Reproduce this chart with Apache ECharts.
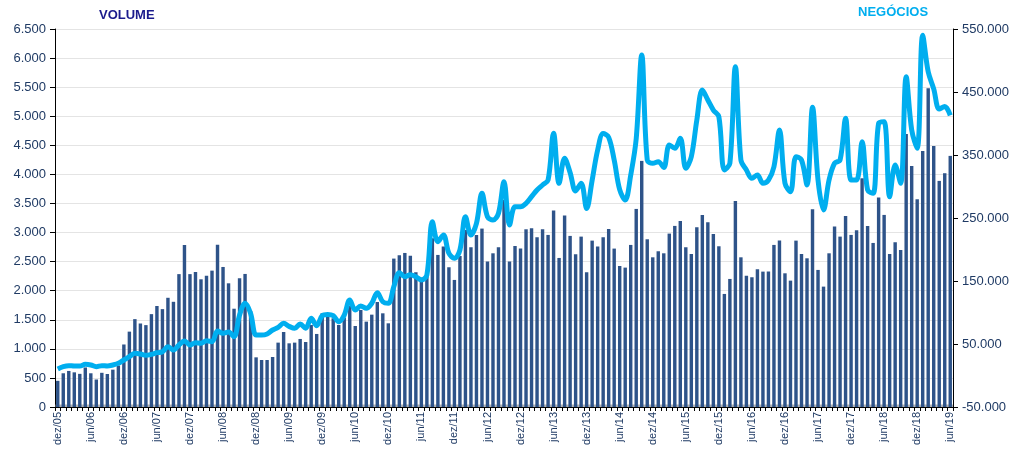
<!DOCTYPE html>
<html>
<head>
<meta charset="utf-8">
<script src="https://cdn.jsdelivr.net/npm/echarts@6/dist/echarts.min.js"></script>
<style>
html,body{margin:0;padding:0;background:#fff;}
#c{width:1013px;height:450px;}
</style>
</head>
<body>
<div id="c"></div>
<script>
// Month labels and span of the series
const monthNames = ['jan','fev','mar','abr','mai','jun','jul','ago','set','out','nov','dez'];
const startYear = 2005, startMonth = 11; // dez/05
const monthCount = 163;                  // dez/05 .. jun/19

// VOLUME (left axis)
const volume = [
  450,580,620,596,570,680,580,473,588,568,642,714,
  1075,1296,1511,1436,1408,1597,1737,1683,1878,1809,2285,2786,
  2285,2322,2196,2259,2345,2792,2408,2127,1690,2213,2288,1650,
  854,808,808,860,1107,1290,1095,1107,1170,1118,1411,1256,
  1611,1611,1525,1411,1537,1737,1393,1669,1468,1588,1806,1611,
  1439,2552,2609,2649,2600,2317,2225,2250,2900,2615,2758,2403,
  2185,2597,3045,2747,2959,3068,2500,2643,2747,3561,2500,2769,
  2724,3056,3073,2919,3056,2959,3377,2563,3291,2942,2626,2930,
  2317,2861,2758,2919,3062,2724,2425,2397,2787,3406,4232,2884,
  2574,2678,2643,2982,3114,3200,2747,2632,3091,3303,3177,2976,
  2764,1944,2202,3544,2574,2259,2231,2368,2328,2328,2787,2861,
  2299,2173,2861,2632,2557,3400,2357,2070,2643,3102,2930,3286,
  2959,3039,3933,3114,2821,3601,3303,2632,2833,2701,4696,4146,
  3572,4400,5482,4490,3888,4020,4318
];

// NEGÓCIOS (right axis)
const negocios = [
  10300,14000,15600,15100,15100,17700,16700,14000,15600,15100,16700,19300,
  24600,29900,35200,34100,32000,33600,36200,37800,45700,40500,48400,54800,
  48400,52100,51100,55200,53700,70600,67000,69000,61600,96000,114600,98700,
  64300,64300,66000,72200,76500,82800,78000,74900,81700,74900,90800,79000,
  95000,96800,95000,85400,96000,119800,104000,110300,106600,114600,131400,117100,
  114600,141000,163200,156800,160000,156800,151600,159500,244100,212400,223000,194000,
  186000,199200,252100,223000,241600,289200,252100,246800,257500,307600,238900,267900,
  267900,273300,283800,294400,302400,310300,384400,305000,345000,322000,293000,305000,
  265000,310000,358000,384000,378000,342000,295000,278600,318000,376000,508700,342000,
  336800,339400,330000,365800,360600,376400,328900,347300,405500,453200,437300,421400,
  410800,326200,336800,490200,342100,326200,313000,318300,305100,310300,331400,389700,
  305100,291700,347300,342100,302400,425700,310300,262700,310300,336800,342100,408200,
  310300,310300,371100,294400,289200,400300,402900,283800,334100,305100,474300,390000,
  360600,540000,482000,455000,423000,427000,413000
];

// Axis ranges
const leftMin = 0, leftMax = 6500, leftStep = 500;
const rightMin = -50000, rightMax = 550000, rightStep = 100000;

const categories = [];
for (let i = 0; i < monthCount; i++) {
  const m = (startMonth + i) % 12;
  const y = startYear + Math.floor((startMonth + i) / 12);
  categories.push(monthNames[m] + '/' + String(y % 100).padStart(2, '0'));
}

function fmt(v) {
  const neg = v < 0;
  const s = String(Math.abs(v)).replace(/\B(?=(\d{3})+(?!\d))/g, '.');
  return (neg ? '-' : '') + s;
}

const labelColor = '#1F3A64';
const chart = echarts.init(document.getElementById('c'), null, {renderer: 'canvas'});
chart.setOption({
  animation: false,
  backgroundColor: '#ffffff',
  textStyle: {fontFamily: 'Liberation Sans, Arial, sans-serif'},
  grid: {left: 55, right: 60, top: 29, bottom: 43, containLabel: false},
  graphic: [
    {type: 'text', left: 99, top: 9, style: {text: 'VOLUME', fill: '#1A1A8C', font: 'bold 13px Liberation Sans, Arial, sans-serif'}},
    {type: 'text', left: 858, top: 6, style: {text: 'NEGÓCIOS', fill: '#00AEEF', font: 'bold 13px Liberation Sans, Arial, sans-serif'}}
  ],
  xAxis: {
    type: 'category',
    data: categories,
    boundaryGap: true,
    axisLine: {show: true, lineStyle: {color: '#000', width: 1}},
    axisTick: {show: true, interval: 0, length: 4, lineStyle: {color: '#000'}},
    axisLabel: {
      rotate: 90,
      interval: function (i) { return i % 6 === 0; },
      color: labelColor,
      fontSize: 11,
      margin: 5
    },
    splitLine: {show: false}
  },
  yAxis: [
    {
      type: 'value', min: leftMin, max: leftMax, interval: leftStep, position: 'left',
      axisLine: {show: true, lineStyle: {color: '#000'}},
      axisTick: {show: true, length: 5, lineStyle: {color: '#000'}},
      axisLabel: {color: labelColor, fontSize: 13, margin: 9, formatter: fmt},
      splitLine: {show: true, lineStyle: {color: '#E4E4E4', width: 1}}
    },
    {
      type: 'value', min: rightMin, max: rightMax, interval: rightStep, position: 'right',
      axisLine: {show: true, lineStyle: {color: '#000'}},
      axisTick: {show: true, length: 5, lineStyle: {color: '#000'}},
      axisLabel: {color: labelColor, fontSize: 13, margin: 9, formatter: fmt},
      splitLine: {show: false}
    }
  ],
  series: [
    {
      name: 'VOLUME', type: 'bar', yAxisIndex: 0, data: volume,
      barCategoryGap: '38%',
      itemStyle: {color: '#2E5389'},
      markArea: {
        silent: true,
        itemStyle: {color: 'rgba(120,120,120,0.55)'},
        data: [[{yAxis: 0}, {yAxis: 45}]]
      }
    },
    {
      name: 'NEGÓCIOS', type: 'line', yAxisIndex: 1, data: negocios,
      smooth: 0.35, symbol: 'none',
      lineStyle: {color: '#00AEEF', width: 5},
      z: 5
    }
  ]
});
</script>
</body>
</html>
